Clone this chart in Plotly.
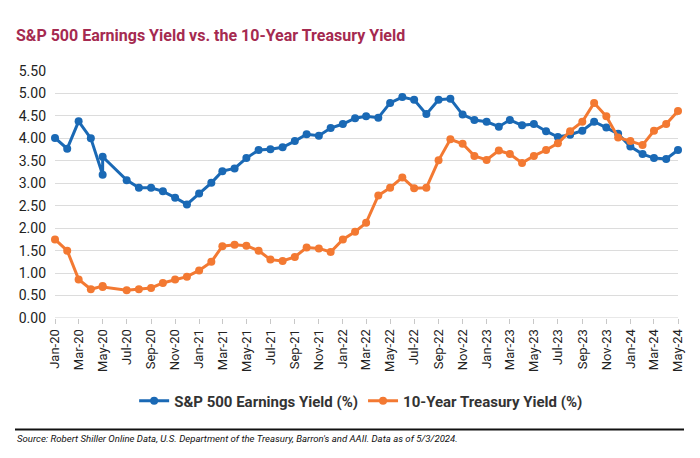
import plotly.graph_objects as go
import pandas as pd

dates = [
    "2020-01-01", "2020-02-01", "2020-03-01", "2020-04-01", "2020-05-01", "2020-05-01",
    "2020-07-01", "2020-08-01", "2020-09-01", "2020-10-01", "2020-11-01", "2020-12-01",
    "2021-01-01", "2021-02-01", "2021-03-01", "2021-04-01", "2021-05-01", "2021-06-01",
    "2021-07-01", "2021-08-01", "2021-09-01", "2021-10-01", "2021-11-01", "2021-12-01",
    "2022-01-01", "2022-02-01", "2022-03-01", "2022-04-01", "2022-05-01", "2022-06-01",
    "2022-07-01", "2022-08-01", "2022-09-01", "2022-10-01", "2022-11-01", "2022-12-01",
    "2023-01-01", "2023-02-01", "2023-03-01", "2023-04-01", "2023-05-01", "2023-06-01",
    "2023-07-01", "2023-08-01", "2023-09-01", "2023-10-01", "2023-11-01", "2023-12-01",
    "2024-01-01", "2024-02-01", "2024-03-01", "2024-04-01", "2024-05-01",
]

earnings_yield = [
    4.01, 3.77, 4.38, 4.00, 3.19, 3.59, 3.07, 2.90, 2.90, 2.82, 2.68, 2.53,
    2.77, 3.01, 3.27, 3.33, 3.56, 3.74, 3.76, 3.80, 3.94, 4.09, 4.06, 4.23,
    4.32, 4.45, 4.49, 4.46, 4.79, 4.92, 4.86, 4.54, 4.86, 4.88, 4.53, 4.41,
    4.37, 4.26, 4.41, 4.29, 4.32, 4.16, 4.03, 4.08, 4.17, 4.37, 4.24, 4.10,
    3.82, 3.65, 3.56, 3.54, 3.74,
]

treasury_yield = [
    1.75, 1.50, 0.86, 0.64, 0.71, 0.69, 0.62, 0.64, 0.67, 0.78, 0.86, 0.92,
    1.06, 1.25, 1.60, 1.63, 1.61, 1.50, 1.30, 1.27, 1.36, 1.57, 1.55, 1.47,
    1.75, 1.92, 2.12, 2.73, 2.90, 3.13, 2.89, 2.90, 3.51, 3.98, 3.88, 3.61,
    3.52, 3.73, 3.65, 3.45, 3.61, 3.74, 3.89, 4.16, 4.37, 4.79, 4.49, 4.02,
    3.94, 3.85, 4.17, 4.32, 4.61,
]

tick_dates = pd.date_range("2020-01-01", "2024-05-01", freq="2MS")
tick_labels = [d.strftime("%b-%y") for d in tick_dates]

BLUE = "#1a69b5"
ORANGE = "#f37932"
FONT = "Roboto"

fig = go.Figure()
fig.add_trace(go.Scatter(
    x=dates, y=earnings_yield, mode="lines+markers",
    name="S&P 500 Earnings Yield (%)",
    line=dict(color=BLUE, width=3),
    marker=dict(color=BLUE, size=8),
    cliponaxis=False,
))
fig.add_trace(go.Scatter(
    x=dates, y=treasury_yield, mode="lines+markers",
    name="10-Year Treasury Yield (%)",
    line=dict(color=ORANGE, width=3),
    marker=dict(color=ORANGE, size=8),
    cliponaxis=False,
))

fig.update_layout(
    width=700, height=458,
    margin=dict(l=55, r=22, t=71, b=140),
    paper_bgcolor="white", plot_bgcolor="white",
    font=dict(family=FONT, color="#222222"),
    title=dict(
        text="<b>S&P 500 Earnings Yield vs. the 10-Year Treasury Yield</b>",
        xref="container", yref="container",
        x=16 / 700, xanchor="left",
        y=1 - 35 / 458, yanchor="middle",
        font=dict(family=FONT, size=16, color="#a52a50"),
    ),
    showlegend=True,
    legend=dict(
        orientation="h", x=0.4914, xanchor="center",
        y=-0.336, yanchor="middle",
        font=dict(family=FONT, size=15, color="#333333", weight="bold"),
        itemwidth=30,
    ),
    xaxis=dict(
        type="date",
        range=["2020-01-01", "2024-05-01"],
        tickmode="array",
        tickvals=list(tick_dates),
        ticktext=tick_labels,
        tickangle=-90,
        ticks="outside", ticklen=5, tickcolor="#c8c8c8",
        showgrid=False, zeroline=False,
        showline=False,
        tickfont=dict(family=FONT, size=13, color="#222222"),
    ),
    yaxis=dict(
        range=[0, 5.5],
        dtick=0.5, tick0=0,
        tickformat=".2f",
        showgrid=True, gridcolor="#dcdcdc", gridwidth=1,
        zeroline=False, showline=False,
        ticklabelstandoff=8,
        tickfont=dict(family=FONT, size=14, color="#222222"),
    ),
    shapes=[
        dict(type="line", xref="paper", yref="paper",
             x0=(15 - 55) / 623, x1=(684 - 55) / 623,
             y0=(318 - 429.5) / 247, y1=(318 - 429.5) / 247,
             line=dict(color="#111111", width=2)),
        dict(type="line", xref="paper", yref="y",
             x0=0, x1=1, y0=0, y1=0,
             line=dict(color="#d0d0d0", width=1), layer="below"),
    ],
    annotations=[
        dict(
            text="<i>Source: Robert Shiller Online Data, U.S. Department of the Treasury, Barron's and AAII. Data as of 5/3/2024.</i>",
            xref="paper", yref="paper",
            x=(15 - 55) / 623, xanchor="left",
            y=(318 - 438.5) / 247, yanchor="middle",
            showarrow=False,
            font=dict(family=FONT, size=9.6, color="#111111"),
        ),
    ],
)

fig.write_html(
    "out.html",
    config={"displayModeBar": False},
    post_script="document.body.style.margin='0';document.body.style.padding='0';",
)
